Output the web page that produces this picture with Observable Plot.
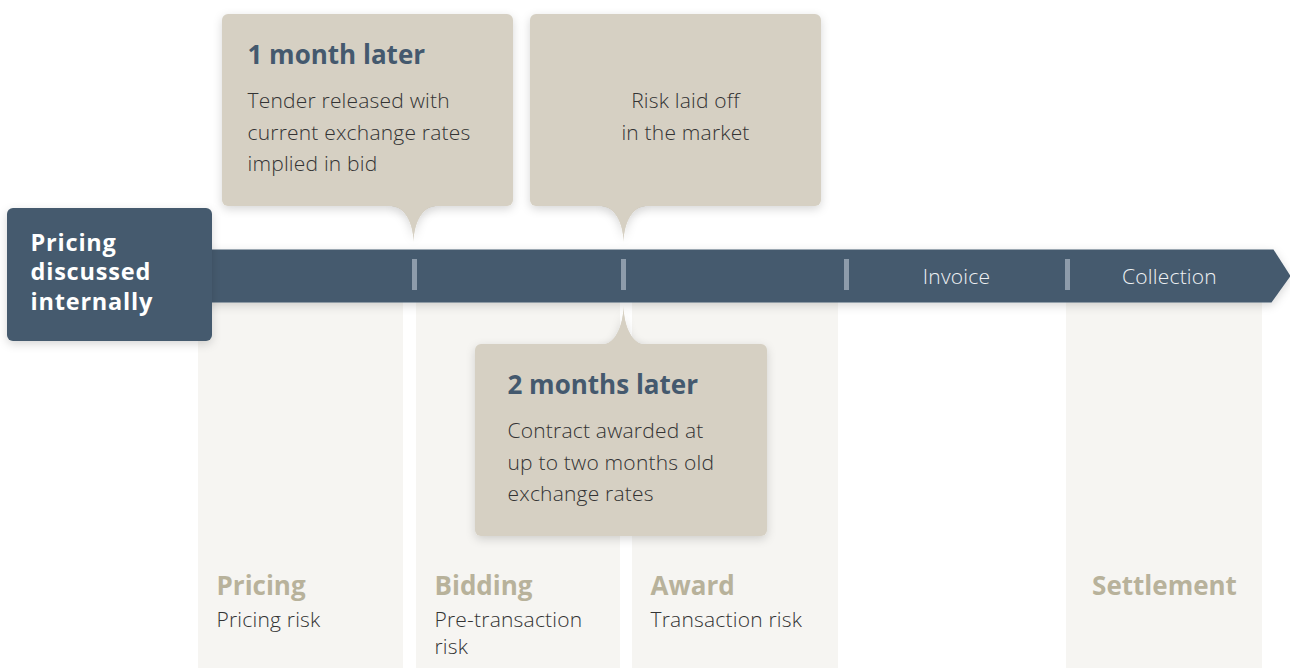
<!DOCTYPE html>
<html><head><meta charset="utf-8">
<script src="https://cdn.jsdelivr.net/npm/d3@7"></script>
<script src="https://cdn.jsdelivr.net/npm/@observablehq/plot@0.6"></script>
<style>body{margin:0;background:#fff}svg{display:block}</style>
</head><body><div id="chart"></div>
<script>
// ---- content ----
const startLabel = ["Pricing", "discussed", "internally"];
const stageNames = ["Pricing", "Bidding", "Award", "Settlement"];
const stageRisks = [["Pricing risk"], ["Pre-transaction", "risk"], ["Transaction risk"], []];
const barLabels = ["Invoice", "Collection"];
const calloutTitles = ["1 month later", "", "2 months later"];
const calloutBodies = [
  ["Tender released with", "current exchange rates", "implied in bid"],
  ["Risk laid off", "in the market"],
  ["Contract awarded at", "up to two months old", "exchange rates"]
];

// ---- layout ----
const W = 1290, H = 668;
const stageX1 = [198, 416, 632, 1066];
const stageX2 = [403, 620, 838, 1262];
const stageCentered = [false, false, false, true];
const colTop = 302;
const bar = {x1: 200, x2: 1273, tipX: 1290, y1: 249, y2: 302};
const tickX = [414, 623, 846, 1067];
const barLabelX = [956, 1169];
const boxes = [
  {x1: 222, x2: 513, y1: 14, y2: 206, tip: 413, tipY: 242, w: 21, tx: 247, center: false},
  {x1: 530, x2: 821, y1: 14, y2: 206, tip: 623, tipY: 242, w: 21, tx: 685, center: true},
  {x1: 475, x2: 767, y1: 344, y2: 536, tip: 623, tipY: 305, w: 21, tx: 507, center: false}
];
const startBox = {x1: 7, x2: 212, y1: 208, y2: 341};

const fontFam = "'Open Sans', Roboto, sans-serif";
const C = {bar: "#455a6e", tick: "#8e9cab", col: "#f6f5f2", box: "#d6d0c3",
  title: "#44596e", body: "#333333", stage: "#b8b29b", white: "#ffffff"};

// pointer shape derived from each callout
function pointerPts(b, i) {
  const base = b.tipY > b.y2 ? b.y2 : b.y1;
  const inset = b.tipY > b.y2 ? -2 : 2;
  const pts = [];
  const n = 24;
  pts.push({x: b.tip - b.w, y: base + inset, id: i});
  for (let k = 0; k <= n; k++) {
    const t = (k / n) * Math.PI / 2;
    pts.push({x: b.tip - b.w + b.w * Math.sin(t), y: base + (b.tipY - base) * (1 - Math.cos(t)), id: i});
  }
  for (let k = n; k >= 0; k--) {
    const t = (k / n) * Math.PI / 2;
    pts.push({x: b.tip + b.w - b.w * Math.sin(t), y: base + (b.tipY - base) * (1 - Math.cos(t)), id: i});
  }
  pts.push({x: b.tip + b.w, y: base + inset, id: i});
  return pts;
}
const pointerData = boxes.flatMap(pointerPts);

const barPoly = [
  {x: bar.x1, y: bar.y1}, {x: bar.x2, y: bar.y1}, {x: bar.tipX, y: (bar.y1 + bar.y2) / 2},
  {x: bar.x2 - 2, y: bar.y2}, {x: bar.x1, y: bar.y2}
];

const columns = stageNames.map((s, i) => ({name: s, x1: stageX1[i], x2: stageX2[i]}));

// text rows
const BOLD = 26, BODY = 21;
const texts = [];
startLabel.forEach((t, i) => texts.push({t, x: 30, y: 242.5 + i * 29.5, fill: C.white, size: 23.5, weight: 700, anchor: "start", ls: 0.8}));
stageNames.forEach((s, i) => {
  const cx = stageCentered[i] ? (stageX1[i] + stageX2[i]) / 2 : stageX1[i] + 18;
  texts.push({t: s, x: cx, y: 586, fill: C.stage, size: BOLD, weight: 700, anchor: stageCentered[i] ? "middle" : "start", ls: 0});
  stageRisks[i].forEach((r, j) => texts.push({t: r, x: cx, y: 620 + j * 27, fill: C.body, size: BODY, weight: 300, anchor: "start", ls: 0.2}));
});
barLabels.forEach((t, i) => texts.push({t, x: barLabelX[i], y: 277, fill: "#eef1f4", size: BODY, weight: 300, anchor: "middle", ls: 0.2}));
boxes.forEach((b, i) => {
  if (calloutTitles[i]) texts.push({t: calloutTitles[i], x: b.tx, y: b.y1 + 41, fill: C.title, size: BOLD, weight: 700, anchor: "start", ls: 0});
  calloutBodies[i].forEach((l, j) => texts.push({
    t: l, x: b.tx, y: b.y1 + 87 + j * 31.5,
    fill: C.body, size: BODY, weight: 300, anchor: b.center ? "middle" : "start", ls: 0.2}));
});

function textMarks(rowsAll) {
  const groups = d3.groups(rowsAll, d => `${d.size}|${d.weight}|${d.anchor}|${d.fill}|${d.ls}`);
  return groups.map(([, rows]) => Plot.text(rows, {
    x: "x", y: "y", text: "t", fill: rows[0].fill, fontSize: rows[0].size, fontWeight: rows[0].weight,
    textAnchor: rows[0].anchor, lineAnchor: "middle", fontFamily: fontFam,
    ariaDescription: "ls" + rows[0].ls
  }));
}

const chart = Plot.plot({
  width: W, height: H, margin: 0,
  x: {domain: [0, W], range: [0, W], axis: null},
  y: {domain: [0, H], range: [0, H], axis: null},
  style: {background: "#fff", fontFamily: fontFam},
  marks: [
    Plot.rect(columns, {x1: "x1", x2: "x2", y1: colTop, y2: H, fill: C.col}),
    Plot.line(pointerData.filter(d => d.id < 2), {x: "x", y: "y", z: "id", fill: C.box, stroke: "none", ariaDescription: "shadow"}),
    Plot.rect(boxes.slice(0, 2), {x1: "x1", x2: "x2", y1: "y1", y2: "y2", fill: C.box, rx: 6, ariaDescription: "shadow"}),
    Plot.line(pointerData.filter(d => d.id < 2), {x: "x", y: "y", z: "id", fill: C.box, stroke: "none"}),
    Plot.line(barPoly, {x: "x", y: "y", fill: C.bar, stroke: "none", ariaDescription: "shadow"}),
    Plot.ruleX(tickX, {x: d => d, y1: 259, y2: 290, stroke: C.tick, strokeWidth: 5}),
    Plot.line(pointerData.filter(d => d.id === 2), {x: "x", y: "y", z: "id", fill: C.box, stroke: "none", ariaDescription: "shadow"}),
    Plot.rect(boxes.slice(2), {x1: "x1", x2: "x2", y1: "y1", y2: "y2", fill: C.box, rx: 6, ariaDescription: "shadow"}),
    Plot.line(pointerData.filter(d => d.id === 2), {x: "x", y: "y", z: "id", fill: C.box, stroke: "none"}),
    Plot.rect([startBox], {x1: "x1", x2: "x2", y1: "y1", y2: "y2", fill: C.bar, rx: 6, ariaDescription: "shadow"}),
    ...textMarks(texts)
  ]
});

const svg = d3.select(chart);
const defs = svg.insert("defs", ":first-child");
const f = defs.append("filter").attr("id", "ds").attr("x", "-20%").attr("y", "-20%").attr("width", "140%").attr("height", "160%");
f.append("feDropShadow").attr("dx", 0).attr("dy", 3).attr("stdDeviation", 5).attr("flood-color", "#000").attr("flood-opacity", 0.16);
svg.selectAll("g[aria-description='shadow']").attr("filter", "url(#ds)");
svg.selectAll("g[aria-description^='ls']").each(function() {
  const v = +this.getAttribute("aria-description").slice(2);
  if (v) this.style.letterSpacing = v + "px";
});
document.getElementById("chart").appendChild(chart);
</script>
</body></html>
